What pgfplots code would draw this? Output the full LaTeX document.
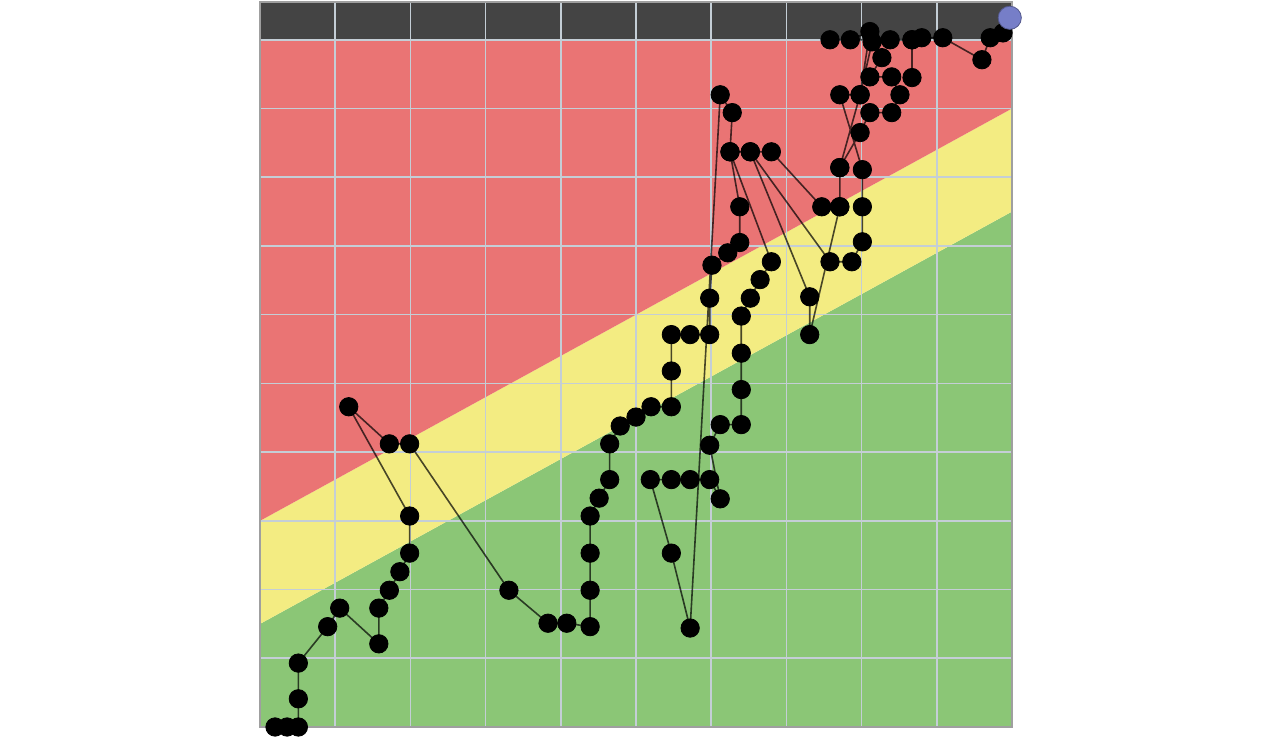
\documentclass[border=0pt]{standalone}
\usepackage{pgfplots}
\usepackage{pgfplotstable}
\pgfplotsset{compat=1.18}

\definecolor{zoneRed}{RGB}{234,116,116}
\definecolor{zoneYellow}{RGB}{243,236,130}
\definecolor{zoneGreen}{RGB}{139,198,118}
\definecolor{topBand}{RGB}{68,68,68}
\definecolor{gridGrey}{RGB}{196,206,214}
\definecolor{nowBlue}{RGB}{118,126,200}

% path of the walk, in grid units
\pgfplotstableread{
x y
0.20 0.00
0.36 0.00
0.51 0.00
0.51 0.41
0.51 0.93
0.90 1.46
1.06 1.73
1.58 1.21
1.58 1.73
1.72 1.99
1.86 2.26
1.99 2.53
1.99 3.07
1.18 4.66
1.72 4.12
1.99 4.12
3.31 1.99
3.83 1.51
4.08 1.51
4.39 1.46
4.39 1.99
4.39 2.53
4.39 3.07
4.51 3.33
4.65 3.60
4.65 4.12
4.79 4.38
5.00 4.51
5.20 4.66
5.47 4.66
5.47 5.18
5.47 5.71
5.72 5.71
5.98 5.71
5.98 6.24
6.01 6.72
6.22 6.90
6.38 7.05
6.38 7.57
6.25 8.37
6.28 8.94
6.12 9.20
5.72 1.44
5.47 2.53
5.19 3.60
5.47 3.60
5.72 3.60
5.98 3.60
6.12 3.32
5.98 4.10
6.12 4.40
6.40 4.40
6.40 4.91
6.40 5.44
6.40 5.98
6.52 6.24
6.65 6.51
6.80 6.77
6.25 8.37
6.52 8.37
7.31 6.26
7.31 5.71
7.71 7.57
7.71 8.14
7.98 9.20
7.71 9.20
8.01 8.11
8.01 7.57
8.01 7.06
7.87 6.77
7.58 6.77
6.52 8.37
6.80 8.37
7.47 7.57
7.71 7.57
7.71 8.14
7.98 8.65
8.11 8.94
8.40 8.94
8.51 9.20
8.40 9.46
8.11 9.46
8.27 9.74
8.14 9.97
7.98 9.20
8.11 10.12
7.85 10.00
7.58 10.00
8.38 10.00
8.67 10.00
8.67 9.45
8.67 10.00
8.80 10.03
9.08 10.03
9.60 9.71
9.71 10.03
9.88 10.10
9.97 10.32
}\walk

\begin{document}
\begin{tikzpicture}
\begin{axis}[
  at={(130pt,5.5pt)}, anchor=south west,
  scale only axis, width=376pt, height=362.5pt,
  xmin=0, xmax=10, ymin=0, ymax=10.55,
  xtick={0,...,10}, ytick={0,...,10},
  xticklabels={}, yticklabels={},
  major tick length=0pt,
  grid=major,
  major grid style={gridGrey, line width=0.8pt},
  axis line style={gray!75, line width=0.9pt},
  set layers, clip=false,
]
% zones
\addplot[draw=none, fill=zoneGreen, on layer=axis background]
  coordinates {(0,0) (10,0) (10,7.5) (0,1.5)} -- cycle;
\addplot[draw=none, fill=zoneYellow, on layer=axis background]
  coordinates {(0,1.5) (10,7.5) (10,9) (0,3)} -- cycle;
\addplot[draw=none, fill=zoneRed, on layer=axis background]
  coordinates {(0,3) (10,9) (10,10) (0,10)} -- cycle;
\addplot[draw=none, fill=topBand, on layer=axis background]
  coordinates {(0,10) (10,10) (10,10.55) (0,10.55)} -- cycle;

% walk
\addplot[black, draw opacity=0.7, line width=0.8pt, no marks] table {\walk};
\addplot[only marks, mark=*, mark size=4.6pt, mark options={fill=black, draw=black}] table {\walk};
\addplot[only marks, mark=*, mark size=5.8pt, mark options={fill=nowBlue, draw=nowBlue!70!black}]
  coordinates {(9.97,10.32)};
\end{axis}
\path (0,0) rectangle (642pt,369pt);
\end{tikzpicture}
\end{document}
